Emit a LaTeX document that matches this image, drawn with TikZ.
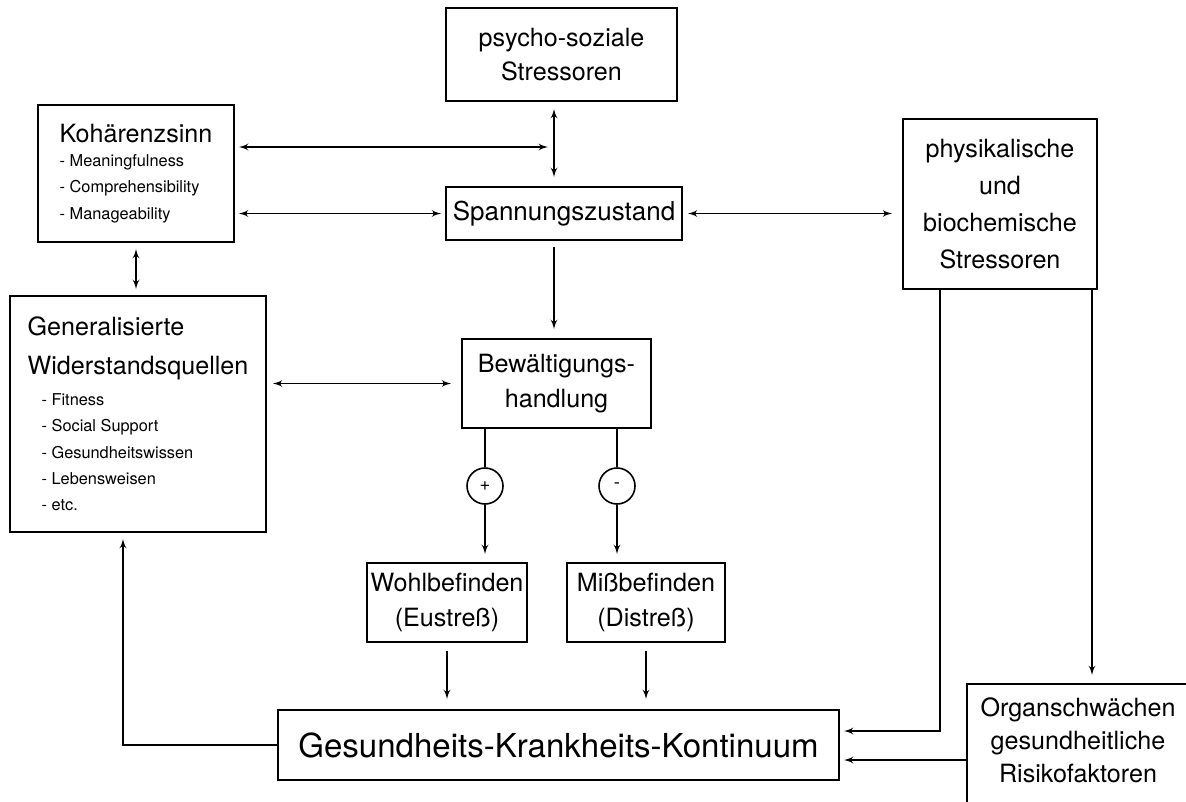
\documentclass[tikz,border=0pt]{standalone}
\usepackage{fontspec}
\setmainfont{TeX Gyre Heros}
\usepackage{tikz}
\usetikzlibrary{calc}
\usetikzlibrary{arrows}

\begin{document}
\begin{tikzpicture}[x = 0.02cm, y = -0.02cm,
        box/.style = {draw, line width = 1pt, inner sep = 0pt, align = center, font = \fontsize{14.3}{20}\selectfont},
        listbox/.style = {draw, line width = 1pt, inner sep = 0pt, align = left, font = \fontsize{9.3}{15}\selectfont},
        sign/.style = {draw, circle, line width = 0.9pt, inner sep = 0pt, font = \fontsize{10.5}{10.5}\selectfont},
        link/.style = {->, >=latex', line width = 0.85pt},
        both/.style = {<->, >=latex', line width = 0.85pt}]
        \def\px{0.02cm};
        \def\big{\fontsize{14.3}{15}\selectfont};
        \useasboundingbox (0,0) rectangle (1186,801);

        \node[box, minimum width = 231*\px, minimum height = 93*\px, font = \fontsize{14.3}{19.4}\selectfont] (psycho) at (561.5,54.5){psycho-soziale\\Stressoren};

        \node[box, minimum width = 236*\px, minimum height = 53*\px, font = \fontsize{14.8}{20}\selectfont] (spann) at (564,213.5){Spannungszustand};

        \node[listbox, minimum width = 196*\px, minimum height = 137*\px] (koh) at (136,173.5){
            {\big Kohärenzsinn}\\[-1.6pt]
            - Meaningfulness\\
            - Comprehensibility\\
            - Manageability
            };

        \node[box, minimum width = 194*\px, minimum height = 170*\px, font = \fontsize{14.3}{20.9}\selectfont] (phys) at (1000,204){physikalische\\und\\biochemische\\Stressoren};

        \node[listbox, minimum width = 256*\px, minimum height = 236*\px] (gen) at (138,414){
            {\big Generalisierte}\\[7.2pt]
            {\big Widerstandsquellen}\\[2.4pt]
            \hspace*{0.28cm}- Fitness\\
            \hspace*{0.28cm}- Social Support\\
            \hspace*{0.28cm}- Gesundheitswissen\\
            \hspace*{0.28cm}- Lebensweisen\\
            \hspace*{0.28cm}- etc.
            };

        \node[box, minimum width = 189*\px, minimum height = 89*\px] (bew) at (556.5,383.5){Bewältigungs-\\handlung};

        \node[sign, minimum size = 36*\px] (plus) at (485,486){+};
        \node[sign, minimum size = 36*\px] (minus) at (617,486){-};

        \node[box, minimum width = 160*\px, minimum height = 79*\px] (wohl) at (447,602.5){Wohlbefinden\\(Eustreß)};
        \node[box, minimum width = 158*\px, minimum height = 79*\px] (miss) at (646,602.5){Mißbefinden\\(Distreß)};

        \node[box, minimum width = 561*\px, minimum height = 70*\px, font = \fontsize{18.8}{22}\selectfont] (gesund) at (558.5,745){Gesundheits-Krankheits-Kontinuum};

        % box runs off the page on the right and at the bottom
        \node[box, draw = none, minimum width = 220*\px, minimum height = 110*\px, font = \fontsize{14.3}{18.8}\selectfont] (organ) at (1078,740){Organschwächen\\gesundheitliche\\Risikofaktoren};
        \draw[line width = 1pt] ($(organ.south west)+(0,80)$) -- (organ.north west) -- ($(organ.north east)+(80,0)$);

        \coordinate (kohtip) at (548,147);
        \coordinate (physr) at ($(phys.south)+(92,0)$);
        \coordinate (physl) at ($(phys.south)+(-60,0)$);
        \coordinate (gesin) at ($(gesund.east)+(0,15)$);

        \draw[both] ($(psycho.south)+(-7.5,7)$) -- ($(psycho.south |- spann.north)+(-7.5,-9)$);
        \draw[both] ($(koh.east)+(4,-26.5)$) -- (kohtip);
        \draw[both, shorten <= 4*\px, shorten >= 4*\px] (koh.east |- spann.west) -- (spann.west);
        \draw[both, shorten <= 5*\px, shorten >= 10*\px] (spann.east) -- (spann.east -| phys.west);
        \draw[both, shorten <= 6*\px, shorten >= 6*\px] (koh.south) -- (koh.south |- gen.north);
        \draw[link, shorten <= 6*\px, shorten >= 9*\px] ($(bew.north |- spann.south)+(-2.5,0)$) -- ($(bew.north)+(-2.5,0)$);
        \draw[both, shorten <= 6*\px, shorten >= 10*\px] (gen.east |- bew.west) -- (bew.west);

        \draw[line width = 0.85pt] (plus |- bew.south) -- (plus.north);
        \draw[link, shorten >= 8*\px] (plus.south) -- (plus |- wohl.north);
        \draw[line width = 0.85pt] (minus |- bew.south) -- (minus.north);
        \draw[link, shorten >= 8*\px] (minus.south) -- (minus |- miss.north);

        \draw[link, shorten <= 8*\px, shorten >= 10*\px] (wohl.south) -- (wohl.south |- gesund.north);
        \draw[link, shorten <= 8*\px, shorten >= 10*\px] (miss.south) -- (miss.south |- gesund.north);

        \draw[link, shorten >= 6*\px] (gesund.west) -| ($(gen.south)+(-15,0)$);
        \draw[link, shorten >= 4*\px] (physl) |- ($(gesund.east)+(0,-14)$);
        \draw[link, shorten >= 9*\px] (physr) -- (physr |- organ.north);
        \draw[link, shorten >= 4*\px] (organ.west |- gesin) -- (gesin);
    \end{tikzpicture}
\end{document}
